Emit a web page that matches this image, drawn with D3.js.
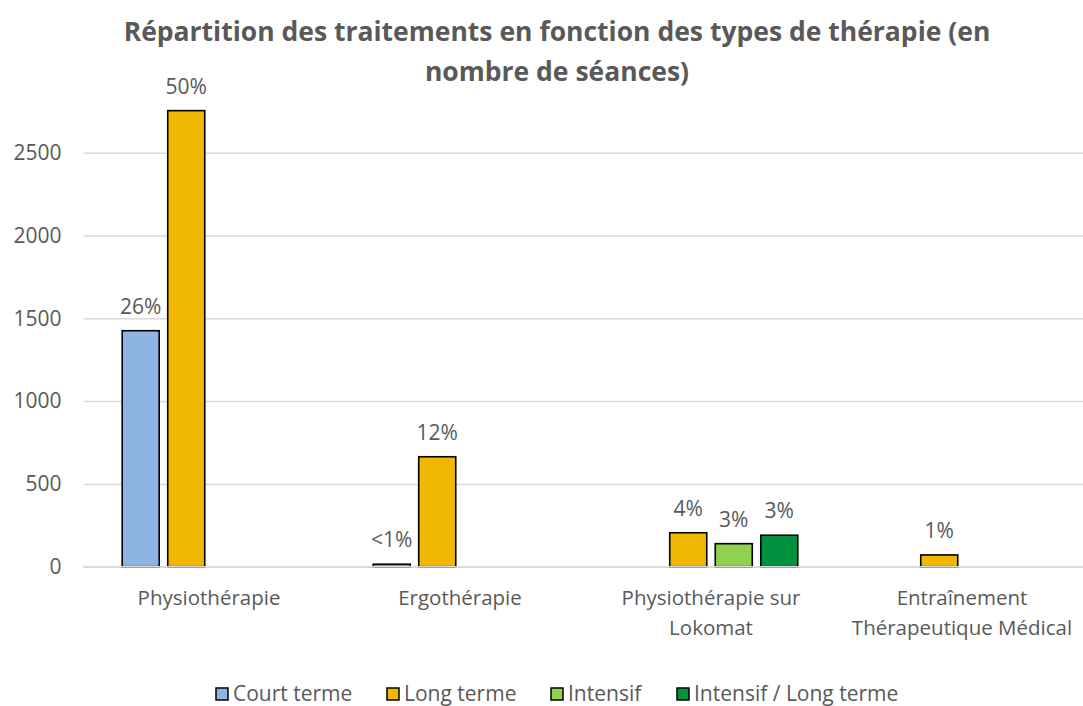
<!DOCTYPE html>
<html>
<head>
<meta charset="utf-8">
<script src="https://cdn.jsdelivr.net/npm/d3@7"></script>
<style>
  body { margin: 0; background: #fff; }
  svg { display: block; }
</style>
</head>
<body>
<div id="graphique"></div>
<script>
// donnees
const categories = [
  ["Physiothérapie"],
  ["Ergothérapie"],
  ["Physiothérapie sur", "Lokomat"],
  ["Entraînement", "Thérapeutique Médical"]
];
const series = ["Court terme", "Long terme", "Intensif", "Intensif / Long terme"];
const courtTerme = [1425, 15, null, null];
const longTerme = [2754, 664, 205, 71];
const intensif = [null, null, 139, null];
const intensifLongTerme = [null, null, 190, null];
const etiquettesCourt = ["26%", "<1%", null, null];
const etiquettesLong = ["50%", "12%", "4%", "1%"];
const etiquettesIntensif = [null, null, "3%", null];
const etiquettesIntensifLong = [null, null, "3%", null];
const ticksY = [0, 500, 1000, 1500, 2000, 2500];
const titre = ["Répartition des traitements en fonction des types de thérapie (en", "nombre de séances)"];

const couleurs = ["#8db4e2", "#f0b800", "#92d050", "#00923f"];
const valeurs = [courtTerme, longTerme, intensif, intensifLongTerme];
const etiquettes = [etiquettesCourt, etiquettesLong, etiquettesIntensif, etiquettesIntensifLong];

const largeur = 1083, hauteur = 706;
const gauche = 83.5, droite = 1087.5, bas = 566.7, haut = 152.7;
const gris = "#595959";
const police = "'Open Sans', 'Noto Sans', sans-serif";

const $svg = d3.select("#graphique")
  .append("svg")
  .attr("width", largeur)
  .attr("height", hauteur)
  .style("font-family", police);

const x0 = d3.scaleBand()
  .domain(d3.range(categories.length))
  .range([gauche, droite]);

const x1 = d3.scaleBand()
  .domain(d3.range(series.length))
  .range([0, x0.bandwidth()])
  .paddingInner(0.187)
  .paddingOuter(0.85);

const y = d3.scaleLinear()
  .domain([0, 2500])
  .range([bas, haut]);

// TITRE
$svg.append("text")
  .attr("x", 557)
  .attr("y", 41)
  .attr("text-anchor", "middle")
  .attr("fill", gris)
  .attr("font-size", 26.5)
  .attr("font-weight", "bold")
  .selectAll("tspan")
  .data(titre)
  .join("tspan")
  .attr("x", 557)
  .attr("dy", (d, i) => i === 0 ? 0 : 40)
  .text(d => d);

// GRILLE ET AXE Y
const axeY = $svg.append("g")
  .attr("transform", `translate(${gauche},0)`)
  .call(d3.axisLeft(y).tickValues(ticksY).tickSize(-(largeur - gauche)).tickPadding(22).tickFormat(d3.format("d")));
axeY.select(".domain").remove();
axeY.selectAll(".tick line")
  .attr("stroke", "#d9d9d9")
  .attr("stroke-width", 1.5);
axeY.selectAll(".tick text")
  .attr("fill", gris)
  .attr("font-size", 21)
  .attr("font-family", police);

// BARRES
series.forEach((s, j) => {
  const donnees = valeurs[j].map((v, i) => ({ i, v, etiquette: etiquettes[j][i] })).filter(d => d.v !== null);
  $svg.append("g")
    .selectAll("rect")
    .data(donnees)
    .join("rect")
    .attr("x", d => x0(d.i) + x1(j))
    .attr("y", d => y(d.v))
    .attr("width", x1.bandwidth())
    .attr("height", d => y(0) - y(d.v))
    .attr("fill", couleurs[j])
    .attr("stroke", "#000")
    .attr("stroke-width", 1.6);

  $svg.append("g")
    .selectAll("text")
    .data(donnees.filter(d => d.etiquette))
    .join("text")
    .attr("x", d => x0(d.i) + x1(j) + x1.bandwidth() / 2)
    .attr("y", d => y(d.v) - 17)
    .attr("text-anchor", "middle")
    .attr("fill", gris)
    .attr("font-size", 21)
    .text(d => d.etiquette);
});

// ligne de base
$svg.append("line")
  .attr("x1", gauche)
  .attr("x2", largeur)
  .attr("y1", y(0))
  .attr("y2", y(0))
  .attr("stroke", "#d9d9d9")
  .attr("stroke-width", 1.5);

// ETIQUETTES DES CATEGORIES
$svg.append("g")
  .selectAll("text")
  .data(categories)
  .join("text")
  .attr("text-anchor", "middle")
  .attr("fill", gris)
  .attr("font-size", 20.5)
  .attr("y", 605)
  .each(function (lignes, i) {
    d3.select(this)
      .selectAll("tspan")
      .data(lignes)
      .join("tspan")
      .attr("x", x0(i) + x0.bandwidth() / 2)
      .attr("dy", (d, k) => k === 0 ? 0 : 30)
      .text(d => d);
  });

// LEGENDE
const posLegende = [216, 387, 551, 677];
const legende = $svg.append("g");
series.forEach((s, j) => {
  legende.append("rect")
    .attr("x", posLegende[j])
    .attr("y", 688)
    .attr("width", 12)
    .attr("height", 12)
    .attr("fill", couleurs[j])
    .attr("stroke", "#000")
    .attr("stroke-width", 1.5);
  legende.append("text")
    .attr("x", posLegende[j] + 17)
    .attr("y", 701)
    .attr("fill", gris)
    .attr("font-size", 21)
    .text(s);
});
</script>
</body>
</html>
